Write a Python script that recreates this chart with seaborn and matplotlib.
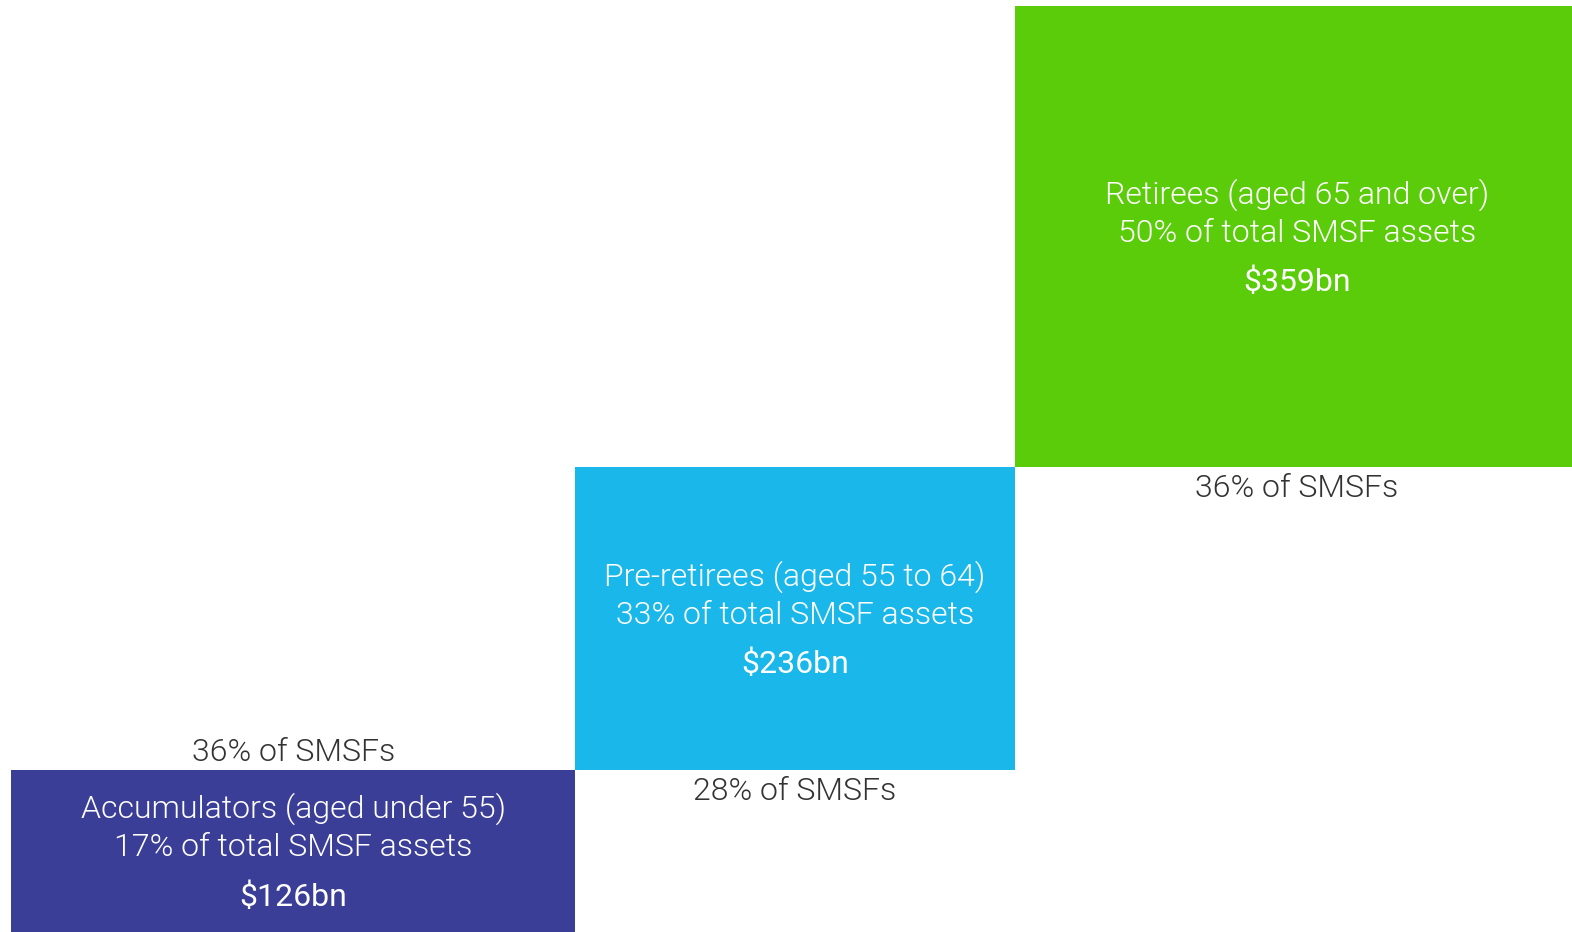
import matplotlib
matplotlib.use("Agg")
import matplotlib.pyplot as plt
import seaborn as sns

# SMSF assets by member life stage (variable-width stacked blocks)
groups = ["Accumulators (aged under 55)",
          "Pre-retirees (aged 55 to 64)",
          "Retirees (aged 65 and over)"]
smsf_share = [36, 28, 36]          # % of SMSFs -> block width
asset_share = [17, 33, 50]         # % of total SMSF assets
assets_bn = [126, 236, 359]        # $bn -> block height
colors = ["#3B3E96", "#1AB7EB", "#5BCC0A"]

sns.set_theme(style="white")
plt.rcParams["font.family"] = ["Roboto", "DejaVu Sans"]

W, H, DPI = 1572, 932, 100
fig = plt.figure(figsize=(W / DPI, H / DPI), dpi=DPI)
fig.patch.set_facecolor("white")

# axes slightly wider than the canvas so the last block runs off the right edge
left_px, right_px = 11, 1579
ax = fig.add_axes([left_px / W, 0, (right_px - left_px) / W, 1])
ax.set_xlim(0, sum(smsf_share))
total = sum(assets_bn)
ax.set_ylim(0, total * H / 926)
ax.axis("off")

px = 0.72  # points per pixel at 100 dpi
grey = "#333333"
fs = 23
LIGHT = 300

x0, y0 = 0, 0
for g, w, a, v, c in zip(groups, smsf_share, asset_share, assets_bn, colors):
    ax.bar(x0, v, width=w, bottom=y0, align="edge", color=c, linewidth=0)
    cx, cy = x0 + w / 2, y0 + v / 2
    lines = [(g, -42, LIGHT), (f"{a}% of total SMSF assets", -3.5, LIGHT),
             (f"${v}bn", 46, "normal")]
    for txt, dy, wt in lines:
        ax.annotate(txt, xy=(cx, cy), xytext=(0, -dy * px), textcoords="offset points",
                    ha="center", va="center", color="white", fontsize=fs, fontweight=wt)
    # share of funds label: below the block, or above it for the bottom block
    if y0 == 0:
        ax.annotate(f"{w}% of SMSFs", xy=(cx, y0 + v), xytext=(0, 18 * px),
                    textcoords="offset points", ha="center", va="center",
                    color=grey, fontsize=fs, fontweight=LIGHT)
    else:
        ax.annotate(f"{w}% of SMSFs", xy=(cx, y0), xytext=(0, -21 * px),
                    textcoords="offset points", ha="center", va="center",
                    color=grey, fontsize=fs, fontweight=LIGHT)
    x0 += w
    y0 += v

fig.savefig("out.png", dpi=DPI, facecolor="white")
